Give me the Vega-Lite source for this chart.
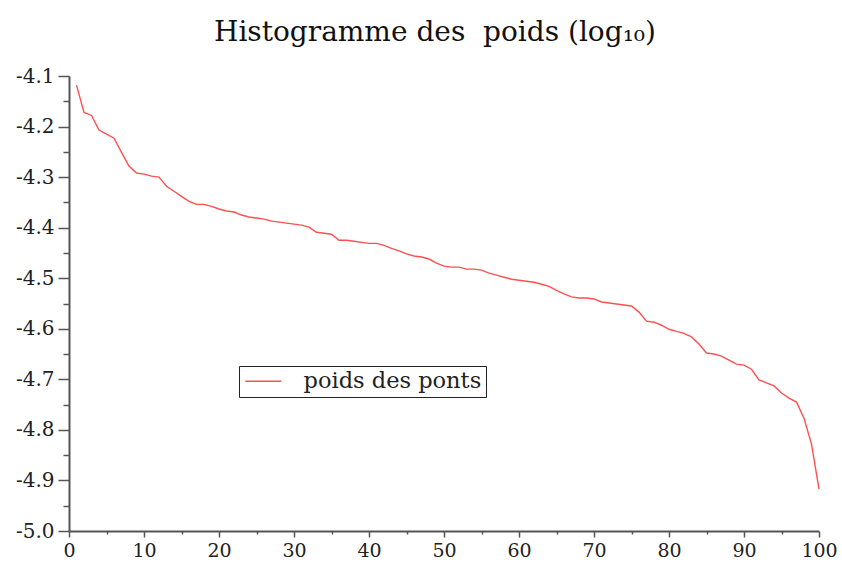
{
  "$schema": "https://vega.github.io/schema/vega-lite/v6.json",
  "width": 750,
  "height": 455,
  "autosize": "none",
  "padding": {"left": 69, "top": 76, "right": 23, "bottom": 32},
  "background": "white",
  "title": {
    "text": "Histogramme des\u00a0 poids (log\u2081\u2080)",
    "font": "DejaVu Serif",
    "fontSize": 28,
    "fontWeight": "normal",
    "color": "#111",
    "frame": "group",
    "anchor": "middle",
    "baseline": "alphabetic",
    "offset": -3,
    "dx": -9
  },
  "config": {
    "view": {"stroke": null},
    "axis": {"grid": false, "title": null}
  },
  "data": {
    "values": [
      {"i": 1, "v": -4.118, "s": "poids des ponts"},
      {"i": 2, "v": -4.172, "s": "poids des ponts"},
      {"i": 3, "v": -4.178, "s": "poids des ponts"},
      {"i": 4, "v": -4.207, "s": "poids des ponts"},
      {"i": 5, "v": -4.215, "s": "poids des ponts"},
      {"i": 6, "v": -4.223, "s": "poids des ponts"},
      {"i": 7, "v": -4.251, "s": "poids des ponts"},
      {"i": 8, "v": -4.278, "s": "poids des ponts"},
      {"i": 9, "v": -4.292, "s": "poids des ponts"},
      {"i": 10, "v": -4.294, "s": "poids des ponts"},
      {"i": 11, "v": -4.298, "s": "poids des ponts"},
      {"i": 12, "v": -4.300, "s": "poids des ponts"},
      {"i": 13, "v": -4.318, "s": "poids des ponts"},
      {"i": 14, "v": -4.328, "s": "poids des ponts"},
      {"i": 15, "v": -4.338, "s": "poids des ponts"},
      {"i": 16, "v": -4.348, "s": "poids des ponts"},
      {"i": 17, "v": -4.354, "s": "poids des ponts"},
      {"i": 18, "v": -4.354, "s": "poids des ponts"},
      {"i": 19, "v": -4.358, "s": "poids des ponts"},
      {"i": 20, "v": -4.363, "s": "poids des ponts"},
      {"i": 21, "v": -4.367, "s": "poids des ponts"},
      {"i": 22, "v": -4.369, "s": "poids des ponts"},
      {"i": 23, "v": -4.375, "s": "poids des ponts"},
      {"i": 24, "v": -4.379, "s": "poids des ponts"},
      {"i": 25, "v": -4.381, "s": "poids des ponts"},
      {"i": 26, "v": -4.383, "s": "poids des ponts"},
      {"i": 27, "v": -4.387, "s": "poids des ponts"},
      {"i": 28, "v": -4.389, "s": "poids des ponts"},
      {"i": 29, "v": -4.391, "s": "poids des ponts"},
      {"i": 30, "v": -4.393, "s": "poids des ponts"},
      {"i": 31, "v": -4.395, "s": "poids des ponts"},
      {"i": 32, "v": -4.399, "s": "poids des ponts"},
      {"i": 33, "v": -4.409, "s": "poids des ponts"},
      {"i": 34, "v": -4.411, "s": "poids des ponts"},
      {"i": 35, "v": -4.413, "s": "poids des ponts"},
      {"i": 36, "v": -4.425, "s": "poids des ponts"},
      {"i": 37, "v": -4.425, "s": "poids des ponts"},
      {"i": 38, "v": -4.427, "s": "poids des ponts"},
      {"i": 39, "v": -4.429, "s": "poids des ponts"},
      {"i": 40, "v": -4.431, "s": "poids des ponts"},
      {"i": 41, "v": -4.431, "s": "poids des ponts"},
      {"i": 42, "v": -4.435, "s": "poids des ponts"},
      {"i": 43, "v": -4.441, "s": "poids des ponts"},
      {"i": 44, "v": -4.446, "s": "poids des ponts"},
      {"i": 45, "v": -4.452, "s": "poids des ponts"},
      {"i": 46, "v": -4.456, "s": "poids des ponts"},
      {"i": 47, "v": -4.458, "s": "poids des ponts"},
      {"i": 48, "v": -4.462, "s": "poids des ponts"},
      {"i": 49, "v": -4.470, "s": "poids des ponts"},
      {"i": 50, "v": -4.476, "s": "poids des ponts"},
      {"i": 51, "v": -4.478, "s": "poids des ponts"},
      {"i": 52, "v": -4.478, "s": "poids des ponts"},
      {"i": 53, "v": -4.482, "s": "poids des ponts"},
      {"i": 54, "v": -4.482, "s": "poids des ponts"},
      {"i": 55, "v": -4.484, "s": "poids des ponts"},
      {"i": 56, "v": -4.490, "s": "poids des ponts"},
      {"i": 57, "v": -4.494, "s": "poids des ponts"},
      {"i": 58, "v": -4.498, "s": "poids des ponts"},
      {"i": 59, "v": -4.502, "s": "poids des ponts"},
      {"i": 60, "v": -4.504, "s": "poids des ponts"},
      {"i": 61, "v": -4.506, "s": "poids des ponts"},
      {"i": 62, "v": -4.508, "s": "poids des ponts"},
      {"i": 63, "v": -4.512, "s": "poids des ponts"},
      {"i": 64, "v": -4.516, "s": "poids des ponts"},
      {"i": 65, "v": -4.524, "s": "poids des ponts"},
      {"i": 66, "v": -4.531, "s": "poids des ponts"},
      {"i": 67, "v": -4.537, "s": "poids des ponts"},
      {"i": 68, "v": -4.539, "s": "poids des ponts"},
      {"i": 69, "v": -4.539, "s": "poids des ponts"},
      {"i": 70, "v": -4.541, "s": "poids des ponts"},
      {"i": 71, "v": -4.547, "s": "poids des ponts"},
      {"i": 72, "v": -4.549, "s": "poids des ponts"},
      {"i": 73, "v": -4.551, "s": "poids des ponts"},
      {"i": 74, "v": -4.553, "s": "poids des ponts"},
      {"i": 75, "v": -4.555, "s": "poids des ponts"},
      {"i": 76, "v": -4.567, "s": "poids des ponts"},
      {"i": 77, "v": -4.585, "s": "poids des ponts"},
      {"i": 78, "v": -4.587, "s": "poids des ponts"},
      {"i": 79, "v": -4.593, "s": "poids des ponts"},
      {"i": 80, "v": -4.601, "s": "poids des ponts"},
      {"i": 81, "v": -4.605, "s": "poids des ponts"},
      {"i": 82, "v": -4.609, "s": "poids des ponts"},
      {"i": 83, "v": -4.616, "s": "poids des ponts"},
      {"i": 84, "v": -4.630, "s": "poids des ponts"},
      {"i": 85, "v": -4.648, "s": "poids des ponts"},
      {"i": 86, "v": -4.650, "s": "poids des ponts"},
      {"i": 87, "v": -4.654, "s": "poids des ponts"},
      {"i": 88, "v": -4.662, "s": "poids des ponts"},
      {"i": 89, "v": -4.670, "s": "poids des ponts"},
      {"i": 90, "v": -4.672, "s": "poids des ponts"},
      {"i": 91, "v": -4.680, "s": "poids des ponts"},
      {"i": 92, "v": -4.701, "s": "poids des ponts"},
      {"i": 93, "v": -4.707, "s": "poids des ponts"},
      {"i": 94, "v": -4.713, "s": "poids des ponts"},
      {"i": 95, "v": -4.727, "s": "poids des ponts"},
      {"i": 96, "v": -4.737, "s": "poids des ponts"},
      {"i": 97, "v": -4.745, "s": "poids des ponts"},
      {"i": 98, "v": -4.777, "s": "poids des ponts"},
      {"i": 99, "v": -4.828, "s": "poids des ponts"},
      {"i": 100, "v": -4.917, "s": "poids des ponts"}
    ]
  },
  "layer": [
    {
      "mark": {"type": "line", "strokeWidth": 1.4, "interpolate": "linear"},
      "encoding": {
        "x": {
          "field": "i", "type": "quantitative",
          "scale": {"domain": [0, 100], "nice": false, "zero": false},
          "axis": {
            "orient": "bottom",
            "values": [0, 10, 20, 30, 40, 50, 60, 70, 80, 90, 100],
            "labelFont": "DejaVu Serif", "labelFontSize": 19, "labelColor": "#222",
            "labelPadding": 4, "labelFlush": false,
            "tickSize": 6, "tickWidth": 1.5, "tickColor": "#555",
            "domainColor": "#555", "domainWidth": 2
          }
        },
        "y": {
          "field": "v", "type": "quantitative",
          "scale": {"domain": [-5.0, -4.1], "nice": false, "zero": false},
          "axis": {
            "orient": "left",
            "values": [-5.0, -4.9, -4.8, -4.7, -4.6, -4.5, -4.4, -4.3, -4.2, -4.1],
            "labelExpr": "replace(format(datum.value, '.1f'), '\u2212', '-')",
            "labelFont": "DejaVu Serif", "labelFontSize": 20, "labelColor": "#222",
            "labelPadding": 4, "labelFlush": false,
            "tickSize": 11, "tickWidth": 1.5, "tickColor": "#555",
            "domainColor": "#555", "domainWidth": 2
          }
        },
        "color": {
          "field": "s", "type": "nominal",
          "scale": {"range": ["#ff5050"]},
          "legend": {
            "title": null,
            "orient": "none",
            "legendX": 170,
            "legendY": 290,
            "strokeColor": "#222",
            "fillColor": "white",
            "padding": 4,
            "symbolType": "M-3,0H3",
            "symbolSize": 144,
            "symbolStrokeWidth": 1.5,
            "symbolOffset": 9,
            "labelOffset": 29,
            "labelFont": "DejaVu Serif",
            "labelFontSize": 22.5,
            "labelColor": "#222",
            "labelLimit": 400
          }
        }
      }
    },
    {
      "mark": {"type": "line", "strokeOpacity": 0},
      "encoding": {
        "x": {
          "field": "i", "type": "quantitative",
          "axis": {
            "orient": "bottom",
            "values": [5, 15, 25, 35, 45, 55, 65, 75, 85, 95],
            "labels": false, "domain": false,
            "tickSize": 3, "tickWidth": 1.5, "tickColor": "#555"
          }
        },
        "y": {
          "field": "v", "type": "quantitative",
          "axis": {
            "orient": "left",
            "values": [-4.95, -4.85, -4.75, -4.65, -4.55, -4.45, -4.35, -4.25, -4.15],
            "labels": false, "domain": false,
            "tickSize": 6, "tickWidth": 1.5, "tickColor": "#555"
          }
        }
      }
    }
  ],
  "resolve": {"axis": {"x": "independent", "y": "independent"}}
}
